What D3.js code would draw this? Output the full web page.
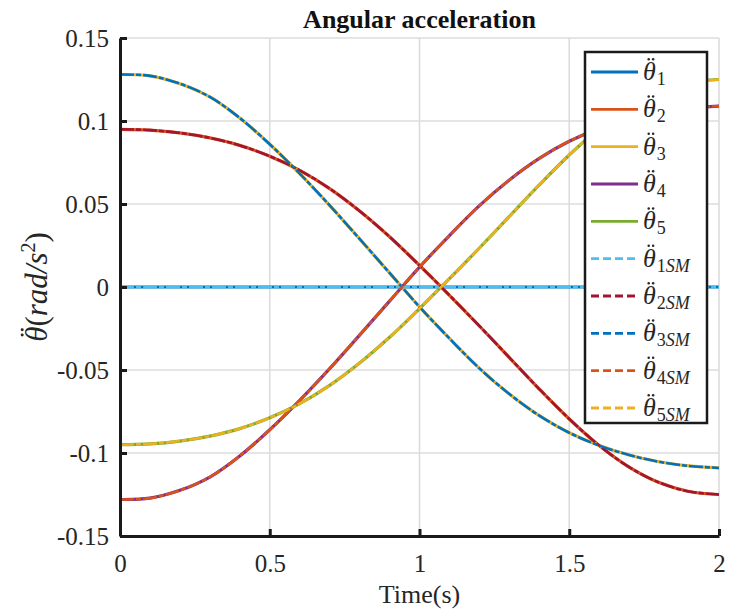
<!DOCTYPE html>
<html>
<head>
<meta charset="utf-8">
<script src="https://cdn.jsdelivr.net/npm/d3@7/dist/d3.min.js"></script>
<style>
  html, body { margin: 0; padding: 0; background: #fff; }
  svg { display: block; }
  text { font-family: "Liberation Serif", "Times New Roman", serif; }
</style>
</head>
<body>
<svg id="chart" width="729" height="612"></svg>
<script>
// Sample times (s)
const time = [0, 0.1, 0.2, 0.3, 0.4, 0.5, 0.6, 0.7, 0.8, 0.9, 1.0,
              1.1, 1.2, 1.3, 1.4, 1.5, 1.6, 1.7, 1.8, 1.9, 2.0];

// Joint angular accelerations (rad/s^2), analytical model
const theta1 = [0, 0, 0, 0, 0, 0, 0, 0, 0, 0, 0, 0, 0, 0, 0, 0, 0, 0, 0, 0, 0];
const theta2 = [0.0950, 0.0945, 0.0928, 0.0898, 0.0853, 0.0788, 0.0703, 0.0593, 0.0458, 0.0303, 0.0130,
                -0.0050, -0.0235, -0.0425, -0.0615, -0.0795, -0.0955, -0.1085, -0.1178, -0.1232, -0.1250];
const theta3 = [0.1280, 0.1272, 0.1225, 0.1145, 0.1018, 0.0860, 0.0683, 0.0492, 0.0290, 0.0085, -0.0120,
                -0.0310, -0.0490, -0.0645, -0.0775, -0.0878, -0.0955, -0.1012, -0.1053, -0.1078, -0.1090];
const theta4 = [-0.1280, -0.1272, -0.1225, -0.1145, -0.1018, -0.0860, -0.0683, -0.0492, -0.0290, -0.0085, 0.0120,
                0.0310, 0.0490, 0.0645, 0.0775, 0.0878, 0.0955, 0.1012, 0.1053, 0.1078, 0.1090];
const theta5 = [-0.0950, -0.0945, -0.0928, -0.0898, -0.0853, -0.0788, -0.0703, -0.0593, -0.0458, -0.0303, -0.0130,
                0.0050, 0.0235, 0.0425, 0.0615, 0.0795, 0.0955, 0.1085, 0.1178, 0.1232, 0.1250];

// Same joints from the SimMechanics model (they coincide with the analytical curves)
const theta1SM = [0, 0, 0, 0, 0, 0, 0, 0, 0, 0, 0, 0, 0, 0, 0, 0, 0, 0, 0, 0, 0];
const theta2SM = [0.0950, 0.0945, 0.0928, 0.0898, 0.0853, 0.0788, 0.0703, 0.0593, 0.0458, 0.0303, 0.0130,
                  -0.0050, -0.0235, -0.0425, -0.0615, -0.0795, -0.0955, -0.1085, -0.1178, -0.1232, -0.1250];
const theta3SM = [0.1280, 0.1272, 0.1225, 0.1145, 0.1018, 0.0860, 0.0683, 0.0492, 0.0290, 0.0085, -0.0120,
                  -0.0310, -0.0490, -0.0645, -0.0775, -0.0878, -0.0955, -0.1012, -0.1053, -0.1078, -0.1090];
const theta4SM = [-0.1280, -0.1272, -0.1225, -0.1145, -0.1018, -0.0860, -0.0683, -0.0492, -0.0290, -0.0085, 0.0120,
                  0.0310, 0.0490, 0.0645, 0.0775, 0.0878, 0.0955, 0.1012, 0.1053, 0.1078, 0.1090];
const theta5SM = [-0.0950, -0.0945, -0.0928, -0.0898, -0.0853, -0.0788, -0.0703, -0.0593, -0.0458, -0.0303, -0.0130,
                  0.0050, 0.0235, 0.0425, 0.0615, 0.0795, 0.0955, 0.1085, 0.1178, 0.1232, 0.1250];

const xTicks = [0, 0.5, 1, 1.5, 2];
const yTicks = [-0.15, -0.1, -0.05, 0, 0.05, 0.1, 0.15];
const xTickLabels = ["0", "0.5", "1", "1.5", "2"];
const yTickLabels = ["-0.15", "-0.1", "-0.05", "0", "0.05", "0.1", "0.15"];

const seriesNames = ["1", "2", "3", "4", "5", "1SM", "2SM", "3SM", "4SM", "5SM"];
const seriesValues = [theta1, theta2, theta3, theta4, theta5,
                      theta1SM, theta2SM, theta3SM, theta4SM, theta5SM];
const seriesColors = ["#0072BD", "#D95319", "#EDB120", "#7E2F8E", "#77AC30",
                      "#4DBEEE", "#A2142F", "#0072BD", "#D95319", "#EDB120"];
const seriesDashed = [false, false, false, false, false, true, true, true, true, true];

const svg = d3.select("#chart");
const margin = { left: 120, right: 10, top: 38, bottom: 76 };
const W = 729, H = 612;
const x = d3.scaleLinear().domain([0, 2]).range([margin.left, W - margin.right]);
const y = d3.scaleLinear().domain([-0.15, 0.15]).range([H - margin.bottom, margin.top]);
const ink = "#262626";

// Two dots over the first character of a text element (the double-dot accent)
function addDoubleDot(parent, textSel, size) {
  const node = textSel.node();
  const x0 = node.getStartPositionOfChar(0).x;
  const x1 = node.getEndPositionOfChar(0).x;
  const by = node.getStartPositionOfChar(0).y;
  const cx = x0 + (x1 - x0) * 0.62;
  const cy = by - size * 0.80;
  const gap = size * 0.085;
  [-gap, gap].forEach(dx => {
    parent.append("circle").attr("cx", cx + dx).attr("cy", cy)
      .attr("r", size * 0.048).attr("fill", ink);
  });
}

// grid
const grid = svg.append("g").attr("stroke", "#dcdcdc").attr("stroke-width", 1.6);
grid.selectAll(".gx").data(xTicks).join("line")
  .attr("x1", d => x(d)).attr("x2", d => x(d))
  .attr("y1", y(-0.15)).attr("y2", y(0.15));
grid.selectAll(".gy").data(yTicks).join("line")
  .attr("y1", d => y(d)).attr("y2", d => y(d))
  .attr("x1", x(0)).attr("x2", x(2));

// series lines: solid analytical curves first, dash-dot SM curves on top
const line = d3.line()
  .x((d, i) => x(time[i]))
  .y(d => y(d))
  .curve(d3.curveCatmullRom.alpha(0.5));

const plot = svg.append("g");
seriesValues.forEach((vals, k) => {
  plot.append("path")
    .attr("d", line(vals))
    .attr("fill", "none")
    .attr("stroke", seriesColors[k])
    .attr("stroke-width", seriesDashed[k] ? 2.6 : 3.2)
    .attr("stroke-dasharray", seriesDashed[k] ? "14,2,5,2" : null)
    .attr("stroke-linejoin", "round");
});

// axes (left and bottom, ticks inward)
const xAxis = d3.axisBottom(x).tickValues(xTicks).tickSizeInner(-7).tickSizeOuter(0)
  .tickFormat((d, i) => xTickLabels[i]);
const yAxis = d3.axisLeft(y).tickValues(yTicks).tickSizeInner(-7).tickSizeOuter(0)
  .tickFormat((d, i) => yTickLabels[i]);

const gx = svg.append("g").attr("transform", `translate(0,${y(-0.15)})`).call(xAxis);
const gy = svg.append("g").attr("transform", `translate(${x(0)},0)`).call(yAxis);
[gx, gy].forEach(g => {
  g.select(".domain").attr("stroke", "#1a1a1a").attr("stroke-width", 3);
  g.selectAll(".tick line").attr("stroke", "#1a1a1a").attr("stroke-width", 3);
  g.selectAll(".tick text").attr("fill", ink)
    .style("font-family", "'Liberation Serif', serif").style("font-size", "25px");
});
gx.selectAll(".tick text").attr("dy", 0).attr("y", 36);
gy.selectAll(".tick text").attr("x", -11).attr("dy", "0.35em");

// title
svg.append("text")
  .attr("x", x(1)).attr("y", 28)
  .attr("text-anchor", "middle")
  .style("font-weight", "bold").style("font-size", "26px")
  .attr("fill", "#111")
  .text("Angular acceleration");

// x label
svg.append("text")
  .attr("x", x(1)).attr("y", 603)
  .attr("text-anchor", "middle")
  .style("font-size", "26px").attr("fill", ink)
  .text("Time(s)");

// y label (rotated)
const ylg = svg.append("g").attr("transform", `translate(47,${y(0)}) rotate(-90)`);
const ylSize = 31;
const yl = ylg.append("text")
  .attr("x", 0).attr("y", 0)
  .attr("text-anchor", "middle")
  .style("font-size", ylSize + "px").attr("fill", ink);
yl.append("tspan").style("font-style", "italic").text("θ");
yl.append("tspan").text("(");
yl.append("tspan").style("font-style", "italic").text("rad/s");
yl.append("tspan").attr("dy", -12).style("font-size", "20px").text("2");
yl.append("tspan").attr("dy", 12).text(")");
addDoubleDot(ylg, yl, ylSize);

// legend
const lg = svg.append("g");
const lgX = 585, lgY = 52, lgW = 122, lgH = 371;
lg.append("rect").attr("x", lgX).attr("y", lgY).attr("width", lgW).attr("height", lgH)
  .attr("fill", "#fff").attr("stroke", "#1a1a1a").attr("stroke-width", 2.5);
const rowY = d3.scaleLinear().domain([0, 9]).range([lgY + 20, lgY + 356]);
const lgSize = 26;
seriesNames.forEach((name, k) => {
  const ry = rowY(k);
  lg.append("line")
    .attr("x1", lgX + 6).attr("x2", lgX + 53)
    .attr("y1", ry).attr("y2", ry)
    .attr("stroke", seriesColors[k])
    .attr("stroke-width", 2.8)
    .attr("stroke-dasharray", seriesDashed[k] ? "8,4" : null);
  const t = lg.append("text")
    .attr("x", lgX + 58).attr("y", ry + 8)
    .style("font-size", lgSize + "px").attr("fill", ink);
  t.append("tspan").style("font-style", "italic").text("θ");
  const num = name.charAt(0);
  const rest = name.slice(1);
  t.append("tspan").attr("dy", 5).attr("dx", 1).style("font-size", "18px").text(num);
  if (rest) t.append("tspan").style("font-size", "18px").style("font-style", "italic").text(rest);
  addDoubleDot(lg, t, lgSize);
});
</script>
</body>
</html>
